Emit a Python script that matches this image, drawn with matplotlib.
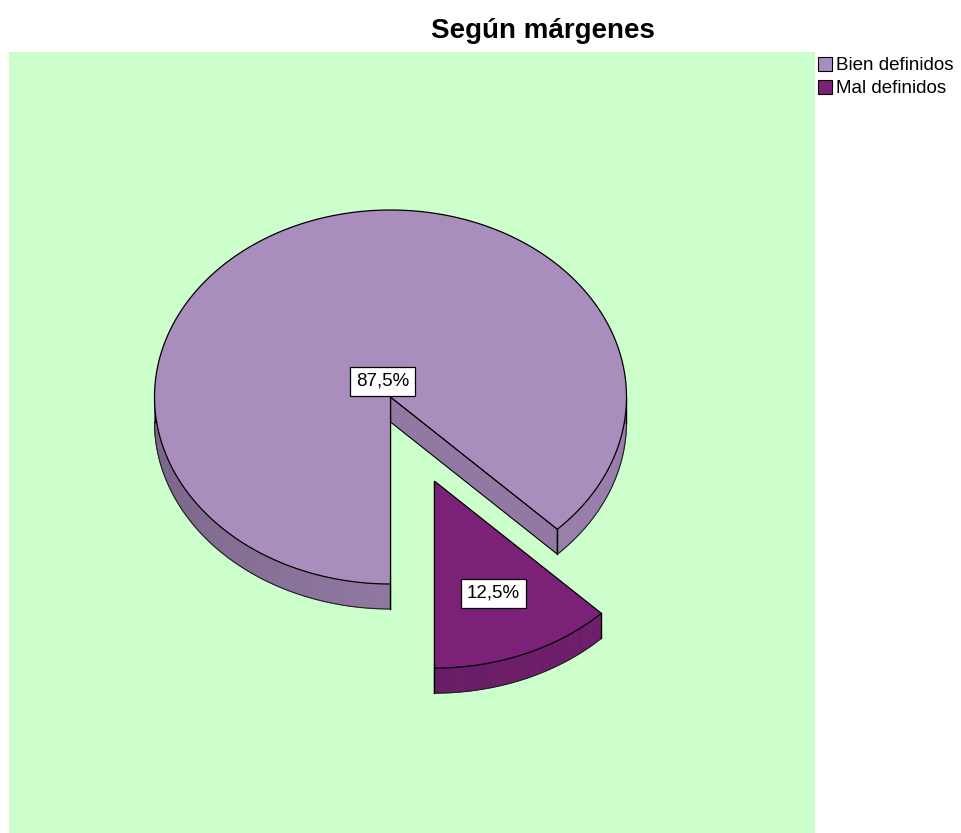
import numpy as np
import matplotlib
matplotlib.use("Agg")
import matplotlib.pyplot as plt
from matplotlib.patches import Polygon, Patch
import matplotlib.colors as mcolors

plt.rcParams['font.family'] = ['Liberation Sans', 'DejaVu Sans']

# ---- data ----
title = "Según márgenes"
categories = ["Bien definidos", "Mal definidos"]
values = [87.5, 12.5]
labels = ["87,5%", "12,5%"]

# ---- style ----
top_colors = ["#A98DBD", "#7B2177"]
explode = [0.0, 0.487]
label_frac = [0.09, 0.65]
bg = "#CCFFCC"

W, H = 962, 833
fig = plt.figure(figsize=(W / 100, H / 100), dpi=100)
fig.patch.set_facecolor("white")

# axes over the green plot region, data units == pixels
x0, x1, y0, y1 = 9, 815, 52, 833
ax = fig.add_axes([x0 / W, 1 - y1 / H, (x1 - x0) / W, (y1 - y0) / H])
ax.set_xlim(x0, x1)
ax.set_ylim(y1, y0)
ax.set_facecolor(bg)
ax.set_axis_off()
ax.add_patch(plt.Rectangle((x0, y0), x1 - x0, y1 - y0, facecolor=bg, edgecolor="none", zorder=0))

cx, cy, rx, ry, depth = 390.5, 397.0, 236.0, 187.0, 25.0
start = 270.0  # degrees, clockwise


def pt(ox, oy, th, dz=0.0):
    t = np.radians(th)
    return ox + rx * np.cos(t), oy - ry * np.sin(t) + dz


def shade(color, f):
    r, g, b = mcolors.to_rgb(color)
    return (r * f, g * f, b * f)


total = sum(values)
slices = []
a = start
for i, v in enumerate(values):
    sweep = 360.0 * v / total
    a_hi = a
    a_lo = a - sweep
    mid = (a_hi + a_lo) / 2
    m = np.radians(mid)
    ox = cx + explode[i] * rx * np.cos(m)
    oy = cy - explode[i] * ry * np.sin(m)
    slices.append(dict(i=i, lo=a_lo, hi=a_hi, mid=mid, ox=ox, oy=oy))
    a = a_lo

# draw back to front (by center y of slice)
order = sorted(slices, key=lambda s: s['oy'] - ry * 0.5 * np.sin(np.radians(s['mid'])))
z = 1
for s in order:
    col = top_colors[s['i']]
    ox, oy = s['ox'], s['oy']
    # cut faces
    for th, side in ((s['lo'], -1), (s['hi'], 1)):
        nrm = np.radians(th + 90 * side)
        if np.sin(nrm) < 0:  # faces viewer (downward on screen)
            px, py = pt(ox, oy, th)
            poly = [(ox, oy), (px, py), (px, py + depth), (ox, oy + depth)]
            ax.add_patch(Polygon(poly, closed=True, facecolor=shade(col, 0.86),
                                 edgecolor="black", lw=0.8, zorder=z))
    z += 1
    # outer wall (front half only), shaded strips
    ths = np.linspace(s['lo'], s['hi'], int((s['hi'] - s['lo']) * 2) + 2)
    for t0, t1 in zip(ths[:-1], ths[1:]):
        tm = (t0 + t1) / 2
        if np.sin(np.radians(tm)) > 0:
            continue
        f = 0.80 + 0.10 * np.cos(np.radians(tm - 330))
        p0 = pt(ox, oy, t0); p1 = pt(ox, oy, t1)
        poly = [p0, p1, (p1[0], p1[1] + depth), (p0[0], p0[1] + depth)]
        ax.add_patch(Polygon(poly, closed=True, facecolor=shade(col, f),
                             edgecolor=shade(col, f), lw=0.6, zorder=z))
    # wall outlines
    vis = [t for t in np.linspace(s['lo'], s['hi'], 600) if np.sin(np.radians(t)) <= 0]
    if vis:
        vis = np.array(vis)
        breaks = np.where(np.diff(vis) > 1.0)[0] + 1
        for run in np.split(vis, breaks):
            bx, by = pt(ox, oy, run, depth)
            ax.plot(bx, by, color="#222222", lw=0.8, zorder=z + 0.5)
            for t in (run[0], run[-1]):
                px, py = pt(ox, oy, t)
                ax.plot([px, px], [py, py + depth], color="black", lw=1.0, zorder=z + 0.5)
    z += 1
    # top face
    tt = np.linspace(s['lo'], s['hi'], 400)
    tx, ty = pt(ox, oy, tt)
    poly = np.vstack([[ox, oy], np.column_stack([tx, ty]), [ox, oy]])
    ax.add_patch(Polygon(poly, closed=True, facecolor=col, edgecolor="black", lw=0.9, zorder=z))
    z += 1

# labels
for s in slices:
    m = np.radians(s['mid'])
    f = label_frac[s['i']]
    lx = s['ox'] + f * rx * np.cos(m)
    ly = s['oy'] - f * ry * np.sin(m)
    ax.text(lx, ly, labels[s['i']], ha="center", va="center", fontsize=13.5, color="black",
            zorder=50, bbox=dict(boxstyle="square,pad=0.32", facecolor="white",
                                 edgecolor="black", lw=0.9))

# title
fig.text(543 / W, 1 - 31 / H, title, ha="center", va="center", fontsize=20, fontweight="bold")

# legend
handles = [Patch(facecolor=c, edgecolor="black", lw=0.8) for c in top_colors]
fig.legend(handles, categories, loc="upper left", bbox_to_anchor=(818 / W, 1 - 57 / H),
           frameon=False, fontsize=13.5, handlelength=0.75, handleheight=0.75,
           handletextpad=0.2, labelspacing=0.3, borderpad=0, borderaxespad=0)

fig.savefig("out.png", dpi=100, facecolor="white")
